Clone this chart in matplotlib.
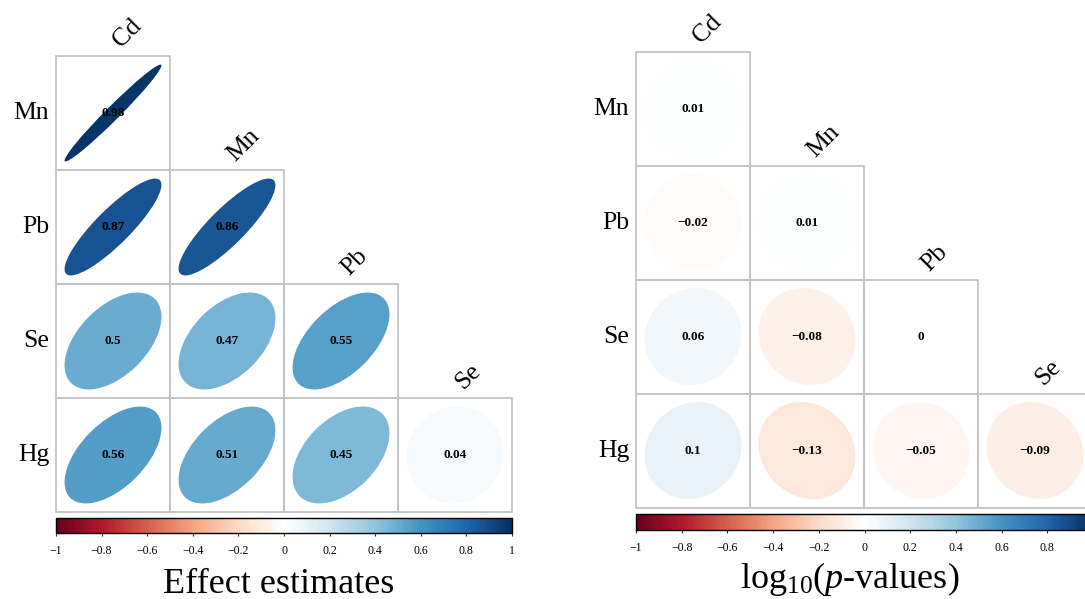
import matplotlib
matplotlib.use("Agg")
import matplotlib.pyplot as plt
from matplotlib.patches import Ellipse, Rectangle
from matplotlib.colors import Normalize, LinearSegmentedColormap
from matplotlib.cm import ScalarMappable
import numpy as np

# Metals in the correlation matrix
elements = ["Cd", "Mn", "Pb", "Se", "Hg"]
row_labels = elements[1:]
col_labels = elements[:-1]

# Lower-triangle entries, one list per row (Mn, Pb, Se, Hg) against Cd, Mn, Pb, Se
effect_rows = [
    [0.98],
    [0.87, 0.86],
    [0.5, 0.47, 0.55],
    [0.56, 0.51, 0.45, 0.04],
]
logp_rows = [
    [0.01],
    [-0.02, 0.01],
    [0.06, -0.08, 0],
    [0.1, -0.13, -0.05, -0.09],
]

cbar_ticks = [-1, -0.8, -0.6, -0.4, -0.2, 0, 0.2, 0.4, 0.6, 0.8, 1]

# Diverging red-white-blue palette with a pure white midpoint
palette = ["#67001F", "#B2182B", "#D6604D", "#F4A582", "#FDDBC7", "#FFFFFF",
           "#D1E5F0", "#92C5DE", "#4393C3", "#2166AC", "#053061"]

plt.rcParams["font.family"] = ["Liberation Serif", "DejaVu Serif"]
plt.rcParams["mathtext.fontset"] = "custom"
plt.rcParams["mathtext.rm"] = "Liberation Serif"
plt.rcParams["mathtext.it"] = "Liberation Serif:italic"
plt.rcParams["mathtext.bf"] = "Liberation Serif:bold"

W, H = 1085, 599
fig = plt.figure(figsize=(W / 100, H / 100), dpi=100)
cmap = LinearSegmentedColormap.from_list("rdwhbu", palette, N=201)
norm = Normalize(-1, 1)


def px_rect(x0, y0, x1, y1):
    return [x0 / W, 1 - y1 / H, (x1 - x0) / W, (y1 - y0) / H]


def fmt(v):
    return f"{v:g}".replace("-", "\u2212")


def draw_panel(grid, values, cbar, tick_labels, title, title_xy):
    n = len(row_labels)
    ax = fig.add_axes(px_rect(*grid))
    ax.set_xlim(0, n)
    ax.set_ylim(0, n)
    ax.axis("off")
    base = 0.425
    for i, row in enumerate(values):
        y = n - i - 1
        for j, v in enumerate(row):
            ax.add_patch(Rectangle((j, y), 1, 1, facecolor="none",
                                   edgecolor="#c4c4c4", lw=1.3, clip_on=False))
            ax.add_patch(Ellipse((j + 0.5, y + 0.5),
                                 2 * base * np.sqrt(1 + v),
                                 2 * base * np.sqrt(1 - v),
                                 angle=45, facecolor=cmap(norm(v)),
                                 edgecolor="none"))
            ax.text(j + 0.5, y + 0.5, fmt(v), ha="center", va="center",
                    fontsize=9.5, fontweight="bold", color="black")
    for i, lab in enumerate(row_labels):
        ax.text(-0.06, n - i - 0.5, lab, ha="right", va="center",
                fontsize=18.5, clip_on=False)
    for j, lab in enumerate(col_labels):
        ax.text(j + 0.57, n - j + 0.07, lab, rotation=45,
                rotation_mode="anchor", ha="left", va="baseline",
                fontsize=18.5, clip_on=False)

    cax = fig.add_axes(px_rect(*cbar))
    cb = fig.colorbar(ScalarMappable(norm=norm, cmap=cmap), cax=cax,
                      orientation="horizontal", ticks=cbar_ticks)
    cb.outline.set_linewidth(1.0)
    cb.set_ticklabels(tick_labels)
    cax.tick_params(length=2.5, width=0.8, labelsize=8.5, pad=6,
                    color="#333333")
    fig.text(title_xy[0] / W, 1 - title_xy[1] / H, title, ha="center",
             va="baseline", fontsize=26)


left_labels = [fmt(t) for t in cbar_ticks]
# the right bar runs to the figure edge, so its last label falls off-page
right_labels = [fmt(t) for t in cbar_ticks[:-1]] + [""]

draw_panel((56, 56, 512, 512), effect_rows, (56, 518, 512, 533),
           left_labels, "Effect estimates", (279, 593))
draw_panel((636, 51.5, 1092, 507.5), logp_rows, (636, 514, 1093, 530),
           right_labels, r"log$_{10}$($p$-values)", (850, 588))

fig.savefig("out.png", dpi=100)
